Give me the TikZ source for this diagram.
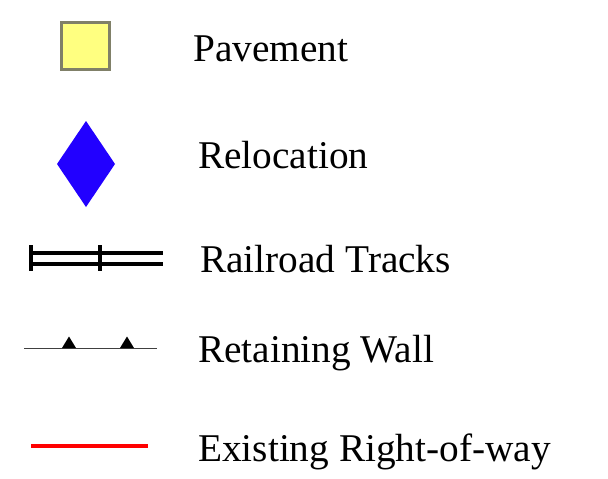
\documentclass[tikz,border=0pt]{standalone}
\usepackage{fontspec}
\setmainfont{Liberation Serif}
\definecolor{paveyellow}{RGB}{255,255,128}
\definecolor{paveedge}{RGB}{128,128,104}
\definecolor{relblue}{RGB}{34,0,255}
\tikzset{
  lbl/.style={anchor=base west,inner sep=0pt,font=\fontsize{39.3}{47}\selectfont},
  rail/.style={line width=3.2pt},
  wall/.style={line width=0.9pt,black!75},
}
\begin{document}
\begin{tikzpicture}[x=1pt,y=-1pt]
      \useasboundingbox (0,0) rectangle (608,479);

      \coordinate (p1) at (61.5,22.5);
      \coordinate (p2) at (109.5,69.5);
      \coordinate (d1) at (86,121);
      \coordinate (d2) at (115,164);
      \coordinate (d3) at (86,207);
      \coordinate (d4) at (57,164);
      \coordinate (r1) at (31,253);
      \coordinate (r2) at (163,253);
      \coordinate (r3) at (31,264);
      \coordinate (r4) at (163,264);
      \coordinate (w1) at (24,348);
      \coordinate (w2) at (157,348);
      \coordinate (e1) at (31,446);
      \coordinate (e2) at (148,446);

      \draw[line width=3pt,draw=paveedge,fill=paveyellow] (p1) rectangle (p2);
      \fill[relblue] (d1) -- (d2) -- (d3) -- (d4) -- cycle;

      \draw[rail] (r1) -- (r2);
      \draw[rail] (r3) -- (r4);
      \foreach \x in {31,100}
        \draw[rail] (\x,245) -- (\x,271);

      \draw[wall] (w1) -- (w2);
      \foreach \x in {69,127}
        \fill (\x-7,348) -- (\x,336.5) -- (\x+7,348) -- cycle;

      \draw[line width=3.5pt,red] (e1) -- (e2);

      \node[lbl] (pave) at (193,61) {Pavement};
      \node[lbl] (reloc) at (198,168) {Relocation};
      \node[lbl] (rail) at (200,272) {Railroad Tracks};
      \node[lbl] (wall) at (198,362) {Retaining Wall};
      \node[lbl] (row) at (198,461) {Existing Right-of-way};
    \end{tikzpicture}
\end{document}
